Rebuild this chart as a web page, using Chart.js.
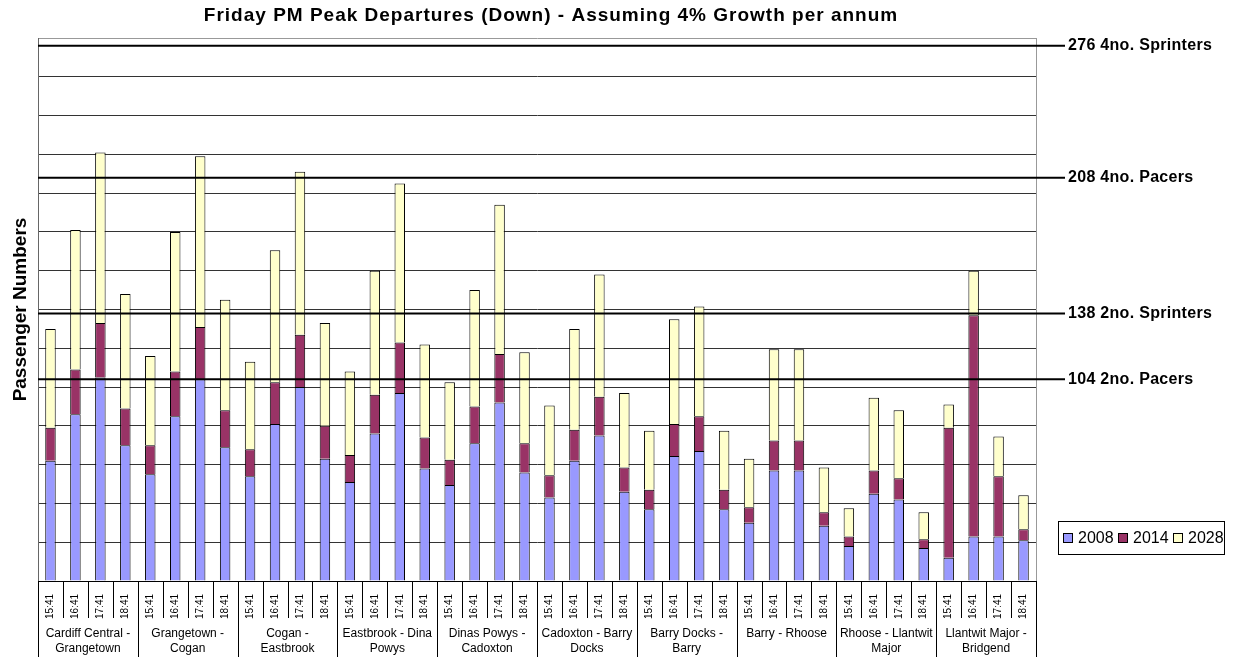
<!DOCTYPE html>
<html>
<head>
<meta charset="utf-8">
<script src="https://cdn.jsdelivr.net/npm/chart.js@4.4.0/dist/chart.umd.min.js"></script>
<style>
body { margin: 0; background: #fff; }
</style>
</head>
<body>
<canvas id="peakChart" width="1234" height="657"></canvas>
<script>
// data
const sections = [
    ['Cardiff Central -', 'Grangetown'],
    ['Grangetown -', 'Cogan'],
    ['Cogan -', 'Eastbrook'],
    ['Eastbrook - Dina', 'Powys'],
    ['Dinas Powys -', 'Cadoxton'],
    ['Cadoxton - Barry', 'Docks'],
    ['Barry Docks -', 'Barry'],
    ['Barry - Rhoose'],
    ['Rhoose - Llantwit', 'Major'],
    ['Llantwit Major -', 'Bridgend']
];
const departures = ['15:41', '16:41', '17:41', '18:41'];
const years = ['2008', '2014', '2028'];

const pax2008 = [62, 86, 105, 70, 55, 85, 104, 69, 54, 81, 100, 63, 51, 76, 97, 58,
    49.5, 71, 92, 56, 43, 62, 75, 46, 37, 64.5, 67, 37, 30, 57, 57, 28.5,
    18, 45, 42, 17, 12, 23, 23, 21];
const pax2014 = [17, 23, 28, 19, 15, 23, 27, 19, 14, 21.5, 27, 17, 14, 20, 26, 16,
    13, 19, 25, 15, 11.5, 16, 20, 12.5, 10, 16.5, 18, 10, 8, 15.5, 15.5, 7,
    5, 12, 11, 4.5, 67, 114, 31, 5.7];
const pax2028 = [51, 72, 88, 59, 46, 72, 88, 57, 45, 68, 84, 53, 43, 64, 82, 48,
    40, 60, 77, 47, 36, 52, 63, 38.5, 30.5, 54, 56.5, 30.5, 25, 47, 47, 23,
    14.5, 37.5, 35, 14, 12, 23, 20.5, 17.5];

const capacityValues = [276, 208, 138, 104];
const capacityNames = ['4no. Sprinters', '4no. Pacers', '2no. Sprinters', '2no. Pacers'];

const Y_MAX = 280;
const Y_STEP = 20;

const yearColors = ['#9999FF', '#993366', '#FFFFCC'];
const FONT = 'Arial, "Liberation Sans", sans-serif';

// one label per bar: section + departure time
const labels = [];
sections.forEach((s, g) => {
    departures.forEach(t => labels.push(g + '|' + t));
});

// drawing of title, capacity lines, two level axis and legend
const overlay = {
    id: 'overlay',
    beforeDraw(chart) {
        const ctx = chart.ctx;
        ctx.save();
        ctx.fillStyle = '#fff';
        ctx.fillRect(0, 0, chart.width, chart.height);
        ctx.restore();
    },
    afterDatasetsDraw(chart) {
        const ctx = chart.ctx;
        const area = chart.chartArea;
        const y = chart.scales.y;
        ctx.save();
        // right border of plot area
        ctx.strokeStyle = '#999';
        ctx.lineWidth = 1;
        ctx.beginPath();
        ctx.moveTo(area.right + 0.5, area.top);
        ctx.lineTo(area.right + 0.5, area.bottom);
        ctx.stroke();

        // capacity lines
        ctx.strokeStyle = '#000';
        ctx.lineWidth = 2;
        ctx.font = 'bold 16px ' + FONT;
        ctx.letterSpacing = '0.3px';
        ctx.fillStyle = '#000';
        ctx.textBaseline = 'middle';
        ctx.textAlign = 'left';
        capacityValues.forEach((v, i) => {
            const py = y.getPixelForValue(v);
            ctx.beginPath();
            ctx.moveTo(area.left, py);
            ctx.lineTo(area.right + 29, py);
            ctx.stroke();
            ctx.fillText(v + ' ' + capacityNames[i], area.right + 32, py);
        });
        ctx.restore();
    },
    afterDraw(chart) {
        const ctx = chart.ctx;
        const area = chart.chartArea;
        const x = chart.scales.x;
        ctx.save();

        // title
        ctx.font = 'bold 19px ' + FONT;
        ctx.letterSpacing = '1px';
        ctx.fillStyle = '#000';
        ctx.textAlign = 'center';
        ctx.textBaseline = 'middle';
        ctx.fillText('Friday PM Peak Departures (Down) - Assuming 4% Growth per annum', 551, 16);
        ctx.letterSpacing = '0px';

        // category separators
        const half = (x.getPixelForValue(1) - x.getPixelForValue(0)) / 2;
        ctx.strokeStyle = '#000';
        ctx.lineWidth = 1;
        for (let i = 0; i <= labels.length; i++) {
            const px = Math.round(i < labels.length ? x.getPixelForValue(i) - half : x.getPixelForValue(i - 1) + half) + 0.5;
            const bottom = (i % departures.length === 0) ? chart.height : area.bottom + 37;
            ctx.beginPath();
            ctx.moveTo(px, area.bottom);
            ctx.lineTo(px, bottom);
            ctx.stroke();
        }

        // section names
        ctx.font = '12px ' + FONT;
        ctx.textAlign = 'center';
        ctx.textBaseline = 'middle';
        sections.forEach((lines, g) => {
            const first = x.getPixelForValue(g * departures.length);
            const last = x.getPixelForValue(g * departures.length + departures.length - 1);
            const cx = (first + last) / 2;
            lines.forEach((line, k) => {
                ctx.fillText(line, cx, area.bottom + 53 + k * 15);
            });
        });

        // legend
        const lx = 1058, ly = 521, lw = 166, lh = 33;
        ctx.strokeStyle = '#000';
        ctx.strokeRect(lx + 0.5, ly + 0.5, lw, lh);
        ctx.font = '16px ' + FONT;
        ctx.textAlign = 'left';
        years.forEach((yr, i) => {
            const sx = lx + 5 + i * 55;
            ctx.fillStyle = yearColors[i];
            ctx.fillRect(sx, ly + 12, 10, 10);
            ctx.strokeStyle = '#000';
            ctx.strokeRect(sx + 0.5, ly + 12.5, 9, 9);
            ctx.fillStyle = '#000';
            ctx.fillText(yr, sx + 15, ly + 17.5);
        });
        ctx.restore();
    }
};

const ctx = document.getElementById('peakChart').getContext('2d');
new Chart(ctx, {
    type: 'bar',
    data: {
        labels: labels,
        datasets: [pax2008, pax2014, pax2028].map((vals, i) => ({
            label: years[i],
            data: vals,
            backgroundColor: yearColors[i],
            borderColor: '#000',
            borderWidth: 1,
            categoryPercentage: 1,
            barPercentage: 0.42
        }))
    },
    options: {
        responsive: false,
        animation: false,
        devicePixelRatio: 1,
        layout: {
            padding: { top: 38, right: 198, left: 0, bottom: 0 }
        },
        scales: {
            x: {
                stacked: true,
                grid: { display: false },
                border: { display: true, color: '#000' },
                ticks: {
                    autoSkip: false,
                    maxRotation: 90,
                    minRotation: 90,
                    padding: 5,
                    color: '#000',
                    font: { size: 10, family: FONT },
                    callback: function(value) {
                        return this.getLabelForValue(value).split('|')[1];
                    }
                },
                afterFit: s => { s.height = 76; }
            },
            y: {
                stacked: true,
                min: 0,
                max: Y_MAX,
                ticks: { display: false, stepSize: Y_STEP },
                grid: {
                    drawTicks: false,
                    color: c => (c.tick && c.tick.value === Y_MAX) ? '#999' : '#333'
                },
                border: { display: true, color: '#666' },
                title: {
                    display: true,
                    text: 'Passenger Numbers',
                    color: '#000',
                    font: { size: 19, weight: 'bold', family: FONT },
                    padding: { top: 9, bottom: 0 }
                },
                afterFit: s => { s.width = 38; }
            }
        },
        plugins: {
            legend: { display: false },
            tooltip: { enabled: false },
            title: { display: false }
        }
    },
    plugins: [overlay]
});
</script>
</body>
</html>
